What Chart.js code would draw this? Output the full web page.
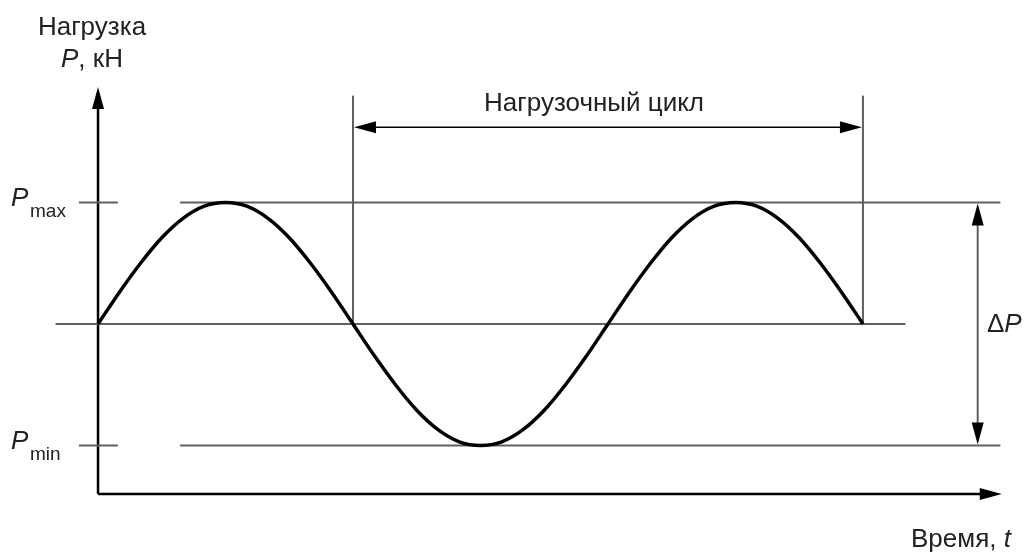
<!DOCTYPE html>
<html>
<head>
<meta charset="utf-8">
<script src="https://cdn.jsdelivr.net/npm/chart.js@4/dist/chart.umd.min.js"></script>
<style>
  body { margin: 0; background: #fff; }
  #wrap { width: 1026px; height: 553px; position: relative; }
</style>
</head>
<body>
<div id="wrap"><canvas id="loadCycle"></canvas></div>
<script>
// phase of the load curve, degrees (1.5 periods)
const phaseDeg = [0, 15, 30, 45, 60, 75, 90, 105, 120, 135, 150, 165, 180,
    195, 210, 225, 240, 255, 270, 285, 300, 315, 330, 345, 360,
    375, 390, 405, 420, 435, 450, 465, 480, 495, 510, 525, 540];
// load relative to amplitude
const loadRel = [0, 0.26, 0.5, 0.71, 0.87, 0.97, 1, 0.97, 0.87, 0.71, 0.5, 0.26, 0,
    -0.26, -0.5, -0.71, -0.87, -0.97, -1, -0.97, -0.87, -0.71, -0.5, -0.26, 0,
    0.26, 0.5, 0.71, 0.87, 0.97, 1, 0.97, 0.87, 0.71, 0.5, 0.26, 0];

const pMax = 1;
const pMin = -1;
const cycleStart = 180;
const cycleEnd = 540;

const yTitle = ['Нагрузка', 'P', ', кН'];
const xTitle = ['Время, ', 't'];
const cycleLabel = 'Нагрузочный цикл';

const lineGrey = '#606060';
const font = '"Liberation Sans", Arial, sans-serif';

function arrow(ctx, x, y, dir, len, half) {
    // dir: 'up' | 'down' | 'left' | 'right', tip at (x, y)
    ctx.beginPath();
    ctx.moveTo(x, y);
    if (dir === 'up') { ctx.lineTo(x - half, y + len); ctx.lineTo(x + half, y + len); }
    if (dir === 'down') { ctx.lineTo(x - half, y - len); ctx.lineTo(x + half, y - len); }
    if (dir === 'left') { ctx.lineTo(x + len, y - half); ctx.lineTo(x + len, y + half); }
    if (dir === 'right') { ctx.lineTo(x - len, y - half); ctx.lineTo(x - len, y + half); }
    ctx.closePath();
    ctx.fillStyle = '#000';
    ctx.fill();
}

function hline(ctx, x1, x2, y, color, w) {
    ctx.beginPath();
    ctx.strokeStyle = color;
    ctx.lineWidth = w;
    ctx.moveTo(x1, y);
    ctx.lineTo(x2, y);
    ctx.stroke();
}

function vline(ctx, x, y1, y2, color, w) {
    ctx.beginPath();
    ctx.strokeStyle = color;
    ctx.lineWidth = w;
    ctx.moveTo(x, y1);
    ctx.lineTo(x, y2);
    ctx.stroke();
}

// text made of upright + italic pieces, left aligned
function mixedText(ctx, parts, x, y, size) {
    let cx = x;
    parts.forEach(([txt, italic]) => {
        ctx.font = (italic ? 'italic ' : '') + size + 'px ' + font;
        ctx.fillText(txt, cx, y);
        cx += ctx.measureText(txt).width;
    });
    return cx - x;
}

function mixedWidth(ctx, parts, size) {
    let w = 0;
    parts.forEach(([txt, italic]) => {
        ctx.font = (italic ? 'italic ' : '') + size + 'px ' + font;
        w += ctx.measureText(txt).width;
    });
    return w;
}

const sketchPlugin = {
    id: 'sketch',
    beforeDatasetsDraw(chart) {
        const ctx = chart.ctx;
        const xs = chart.scales.x;
        const ys = chart.scales.y;
        const px = v => xs.getPixelForValue(v);
        const py = v => ys.getPixelForValue(v);

        ctx.save();
        // axes
        const x0 = px(0);
        const axisY = py(-1.4);
        vline(ctx, x0, py(1.9), axisY, '#000', 2.5);
        hline(ctx, x0, px(632), axisY, '#000', 2.5);
        arrow(ctx, x0, py(1.95), 'up', 22, 6);
        arrow(ctx, px(638), axisY, 'right', 22, 6);

        // zero line
        hline(ctx, px(-30), px(570), py(0), lineGrey, 2);
        // Pmax / Pmin ticks and levels
        [pMax, pMin].forEach(p => {
            hline(ctx, px(-13.5), px(14), py(p), lineGrey, 2);
            hline(ctx, px(58), px(637), py(p), lineGrey, 2);
        });

        // cycle bounds
        vline(ctx, px(cycleStart), py(1.88), py(0), lineGrey, 2);
        vline(ctx, px(cycleEnd), py(1.88), py(0), lineGrey, 2);
        const cy = py(1.62);
        hline(ctx, px(cycleStart) + 10, px(cycleEnd) - 10, cy, '#000', 1.5);
        arrow(ctx, px(cycleStart) + 1, cy, 'left', 22, 6);
        arrow(ctx, px(cycleEnd) - 1, cy, 'right', 22, 6);

        // delta P
        const dx = px(621);
        vline(ctx, dx, py(pMax) + 10, py(pMin) - 10, lineGrey, 2);
        arrow(ctx, dx, py(pMax) + 1, 'up', 22, 6);
        arrow(ctx, dx, py(pMin) - 1, 'down', 22, 6);

        // text
        const fs = 26;
        ctx.fillStyle = '#222';
        ctx.textBaseline = 'middle';
        ctx.textAlign = 'center';
        ctx.font = fs + 'px ' + font;
        ctx.fillText(yTitle[0], 92, 28);
        ctx.fillText(cycleLabel, 594, 104);

        ctx.textAlign = 'left';
        const unitParts = [[yTitle[1], true], [yTitle[2], false]];
        mixedText(ctx, unitParts, 92 - mixedWidth(ctx, unitParts, fs) / 2, 60, fs);

        // P max / P min labels
        [[pMax, 'max'], [pMin, 'min']].forEach(([p, sub]) => {
            const y = py(p);
            ctx.font = 'italic ' + fs + 'px ' + font;
            ctx.fillText('P', 11, y - 4);
            ctx.font = '19px ' + font;
            ctx.fillText(sub, 30, y + 9);
        });

        // delta P label
        mixedText(ctx, [['Δ', false], ['P', true]], 987, py(0) + 1, fs);

        // time label
        mixedText(ctx, [[xTitle[0], false], [xTitle[1], true]], 911, 540, fs);
        ctx.restore();
    }
};

new Chart(document.getElementById('loadCycle'), {
    type: 'line',
    data: {
        labels: phaseDeg,
        datasets: [{
            data: phaseDeg.map((t, i) => ({ x: t, y: loadRel[i] })),
            borderColor: '#000',
            borderWidth: 3.5,
            pointRadius: 0,
            cubicInterpolationMode: 'monotone',
            fill: false,
            clip: false
        }]
    },
    options: {
        responsive: true,
        maintainAspectRatio: false,
        animation: false,
        layout: { padding: 0 },
        plugins: { legend: { display: false }, tooltip: { enabled: false } },
        scales: {
            x: { type: 'linear', display: false, min: -69.2, max: 655.1 },
            y: { type: 'linear', display: false, min: -1.885, max: 2.667 }
        }
    },
    plugins: [sketchPlugin]
});
</script>
</body>
</html>
